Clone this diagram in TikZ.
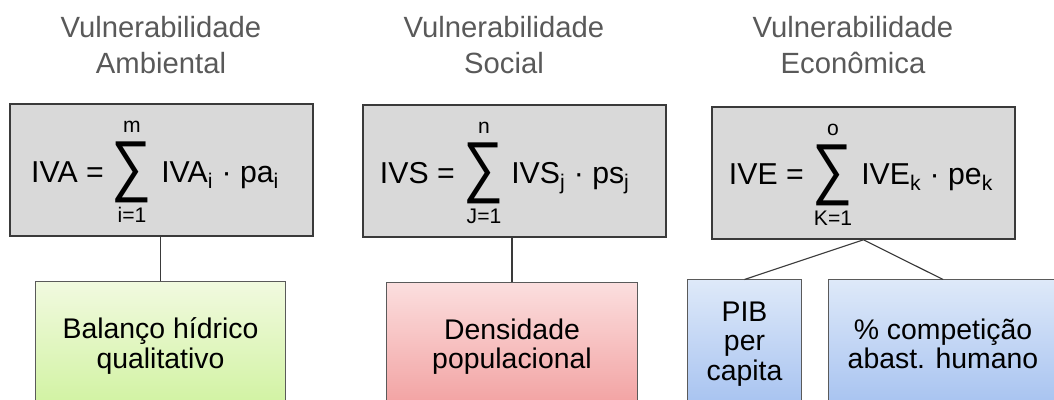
\documentclass[tikz,border=0pt]{standalone}
\usepackage{fontspec}
\setmainfont{Liberation Sans}
\usepackage{graphicx}
\definecolor{cinzacx}{HTML}{D9D9D9}
\definecolor{borda}{HTML}{3A3A3A}
\definecolor{bordaind}{HTML}{5A5A5A}
\definecolor{cortitulo}{HTML}{595959}
\definecolor{verdeA}{HTML}{F1FADF}
\definecolor{verdeB}{HTML}{D0F2A0}
\definecolor{vermA}{HTML}{FBDEDE}
\definecolor{vermB}{HTML}{F2A0A0}
\definecolor{azulA}{HTML}{DEE9F9}
\definecolor{azulB}{HTML}{A6C2F0}
\begin{document}
\begin{tikzpicture}[x=0.025cm,y=-0.025cm,
  titulo/.style={align=center,inner sep=0pt,text=cortitulo,font=\fontsize{20.8}{25.6}\selectfont},
  formula/.style={inner sep=0pt,font=\fontsize{21.5}{21.5}\selectfont},
  limite/.style={inner sep=0pt,font=\fontsize{15}{15}\selectfont},
  caixa/.style={draw=borda,line width=1.1pt,fill=cinzacx,minimum width=7.575cm,minimum height=3.3cm},
  indicador/.style={draw=bordaind,line width=0.7pt,align=center,inner sep=0pt,font=\fontsize{20.2}{21}\selectfont},
  ligacao/.style={draw=borda,line width=0.8pt}]
  \useasboundingbox (0,0) rectangle (1054,400);
  \clip (0,0) rectangle (1054,400);

  \node[titulo] (ta) at (161,45) {Vulnerabilidade\\Ambiental};
  \node[titulo] (ts) at (504,45) {Vulnerabilidade\\Social};
  \node[titulo] (te) at (853,45) {Vulnerabilidade\\Econômica};

  \node[caixa] (ca) at (161.5,170) {};
  \node[caixa] (cs) at (514.5,171) {};
  \node[caixa] (ce) at (863.5,173) {};

  \node[formula,anchor=base east] (fa) at (104,183) {IVA =};
  \node[inner sep=0pt] (sa) at (132,172.5) {\resizebox*{1cm}{1.525cm}{∑}};
  \node[limite] (ma) at (132,127) {m};
  \node[limite] (ia) at (132,215) {i=1};
  \node[formula,anchor=base west] (ra) at (161,183) {IVA\textsubscript{i} · pa\textsubscript{i}};

  \node[formula,anchor=base east] (fs) at (455,184) {IVS =};
  \node[inner sep=0pt] (ss) at (483.5,173.5) {\resizebox*{1cm}{1.525cm}{∑}};
  \node[limite] (ns) at (484,128) {n};
  \node[limite] (js) at (484,216) {J=1};
  \node[formula,anchor=base west] (rs) at (511,184) {IVS\textsubscript{j} · ps\textsubscript{j}};

  \node[formula,anchor=base east] (fe) at (804,185) {IVE =};
  \node[inner sep=0pt] (se) at (832.5,175.5) {\resizebox*{1cm}{1.525cm}{∑}};
  \node[limite] (oe) at (833,130) {o};
  \node[limite] (ke) at (833,218) {K=1};
  \node[formula,anchor=base west] (re) at (861,185) {IVE\textsubscript{k} · pe\textsubscript{k}};

  \node[indicador,top color=verdeA,bottom color=verdeB,minimum width=6.225cm,minimum height=3.2cm] (va) at (160.5,346) {Balanço hídrico\\qualitativo};
  \node[indicador,top color=vermA,bottom color=vermB,minimum width=6.25cm,minimum height=3.175cm] (vs) at (512,346.5) {Densidade\\populacional};
  \node[indicador,top color=azulA,bottom color=azulB,minimum width=2.825cm,minimum height=3.2cm] (vp) at (744.5,344) {PIB\\per\\capita};
  \node[indicador,top color=azulA,bottom color=azulB,minimum width=5.7cm,minimum height=3.2cm] (vc) at (943,344) {\% competição\\abast. humano};

  \draw[ligacao] (va.north) -- (va.north |- ca.south);
  \draw[ligacao] (vs.north) -- (vs.north |- cs.south);
  \draw[ligacao] (ce.south) -- (vp.north);
  \draw[ligacao] (ce.south) -- (vc.north);
\end{tikzpicture}
\end{document}
